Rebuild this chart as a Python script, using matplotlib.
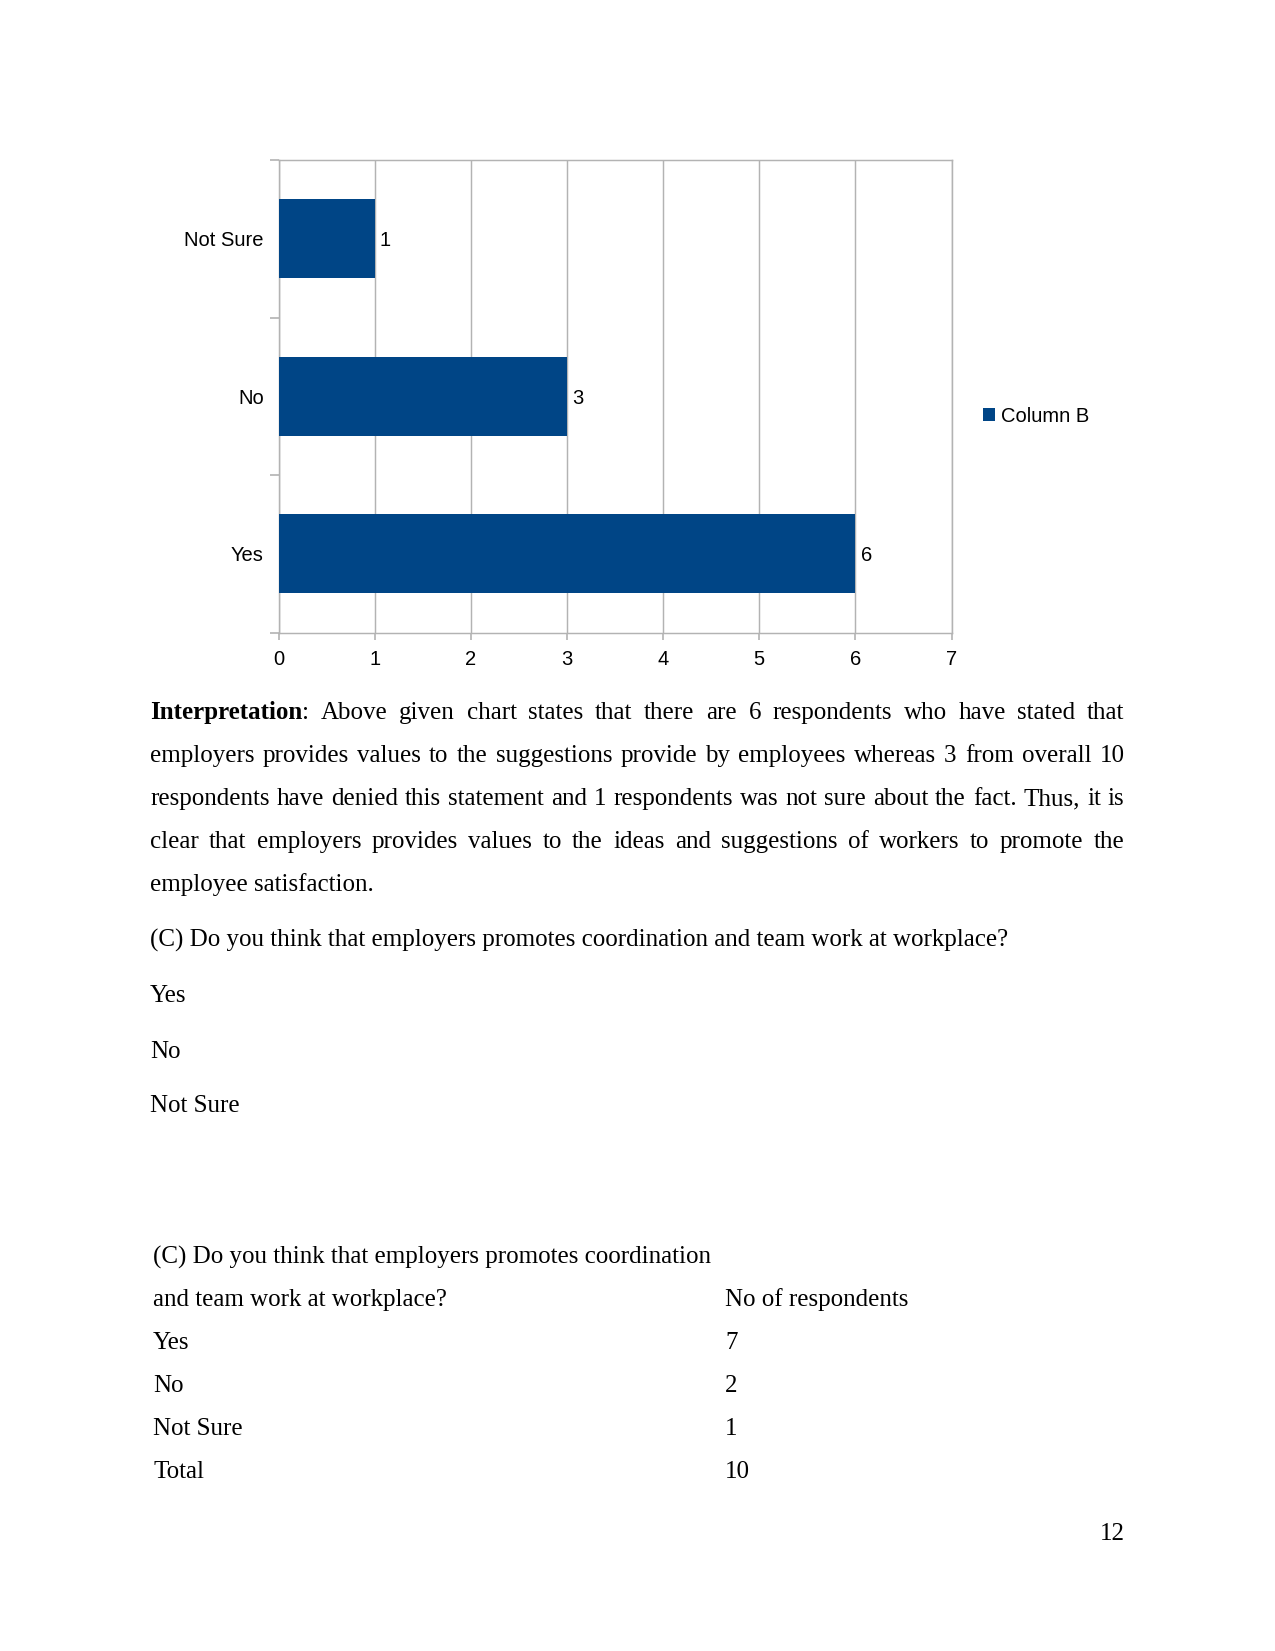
import matplotlib
matplotlib.use("Agg")
import matplotlib.pyplot as plt

# chart data
answers = ["Yes", "No", "Not Sure"]
counts = [6, 3, 1]
series_name = "Column B"

# table data (question C)
table_rows = ["Yes", "No", "Not Sure", "Total"]
table_counts = [7, 2, 1, 10]

plt.rcParams["font.family"] = ["Liberation Sans", "DejaVu Sans"]
SERIF = ["Liberation Serif", "DejaVu Serif"]
CFS = 9.7  # chart font size

W, H = 1275, 1651
fig = plt.figure(figsize=(W / 150, H / 150), dpi=150)


def fx(x):
    return x / W


def fy(y):
    return 1 - y / H


# bar chart
ax = fig.add_axes([fx(278.5), fy(632.5), (951.5 - 278.5) / W, (632.5 - 160) / H])
bars = ax.barh(range(len(answers)), counts, height=0.5, color="#004586",
               label=series_name, zorder=3)
ax.set_xlim(0, 7)
ax.set_ylim(-0.5, 2.5)
ax.set_xticks(range(8))
ax.set_yticks([-0.5, 0.5, 1.5, 2.5])
ax.set_yticklabels([])
ax.set_yticks(range(len(answers)), minor=True)
ax.set_yticklabels(answers, minor=True)
ax.tick_params(axis="y", which="minor", length=0, pad=7, labelsize=CFS)
ax.tick_params(axis="y", which="major", length=4.3, color="#b3b3b3")
ax.tick_params(axis="x", length=3.5, color="#b3b3b3", pad=5, labelsize=CFS)
ax.grid(axis="x", color="#b3b3b3", linewidth=0.7, zorder=0)
for s in ax.spines.values():
    s.set_color("#b3b3b3")
    s.set_linewidth(0.7)
for t in ax.bar_label(bars, padding=2.5, fontsize=CFS):
    t.set_va("center_baseline")
ax.legend(loc="center left", bbox_to_anchor=(fx(982.7), fy(416.5)),
          bbox_transform=fig.transFigure, frameon=False, fontsize=CFS,
          handlelength=0.6, handleheight=0.6, handletextpad=0.3,
          borderpad=0, borderaxespad=0)

# body text
renderer = fig.canvas.get_renderer()
LEFT, RIGHT = 150, 1124.5
FS = 12


def piece_width(s, weight):
    t = fig.text(0, 0, s, fontsize=FS, family=SERIF, fontweight=weight)
    w = t.get_window_extent(renderer).width
    t.remove()
    return w


def draw_line(words, y, justify=True):
    widths = [sum(piece_width(s, wt) for s, wt in w) for w in words]
    if justify and len(words) > 1:
        gap = (RIGHT - LEFT - sum(widths)) / (len(words) - 1)
    else:
        gap = piece_width(" ", "normal")
    x = LEFT
    for w, ww in zip(words, widths):
        xx = x
        for s, wt in w:
            fig.text(fx(xx), fy(y), s, fontsize=FS, family=SERIF, fontweight=wt,
                     va="baseline", ha="left")
            xx += piece_width(s, wt)
        x += ww + gap


def plain(line):
    return [[(w, "normal")] for w in line.split()]


para = [
    [[("Interpretation", "bold"), (":", "normal")]]
    + plain("Above given chart states that there are 6 respondents who have stated that"),
    plain("employers provides values to the suggestions provide by employees whereas 3 from overall 10"),
    plain("respondents have denied this statement and 1 respondents was not sure about the fact. Thus, it is"),
    plain("clear that employers provides values to the ideas and suggestions of workers to promote the"),
    plain("employee satisfaction."),
]
base_y = [719, 762, 805, 848, 891]
for i, (words, y) in enumerate(zip(para, base_y)):
    draw_line(words, y, justify=(i < len(para) - 1))


def simple(s, x, y, ha="left"):
    fig.text(fx(x), fy(y), s, fontsize=FS, family=SERIF, va="baseline", ha=ha)


simple("(C) Do you think that employers promotes coordination and team work at workplace?", 150, 947)
for s, y in zip(answers, [1002, 1058, 1112]):
    simple(s, 150, y)

simple("(C) Do you think that employers promotes coordination", 153, 1264)
simple("and team work at workplace?", 153, 1306)
simple("No of respondents", 725, 1306)
for i, (r, c) in enumerate(zip(table_rows, table_counts)):
    y = 1349 + i * 43
    simple(r, 153, y)
    simple(str(c), 725, y)

simple("12", 1124.5, 1540, ha="right")

fig.savefig("out.png", dpi=150)
